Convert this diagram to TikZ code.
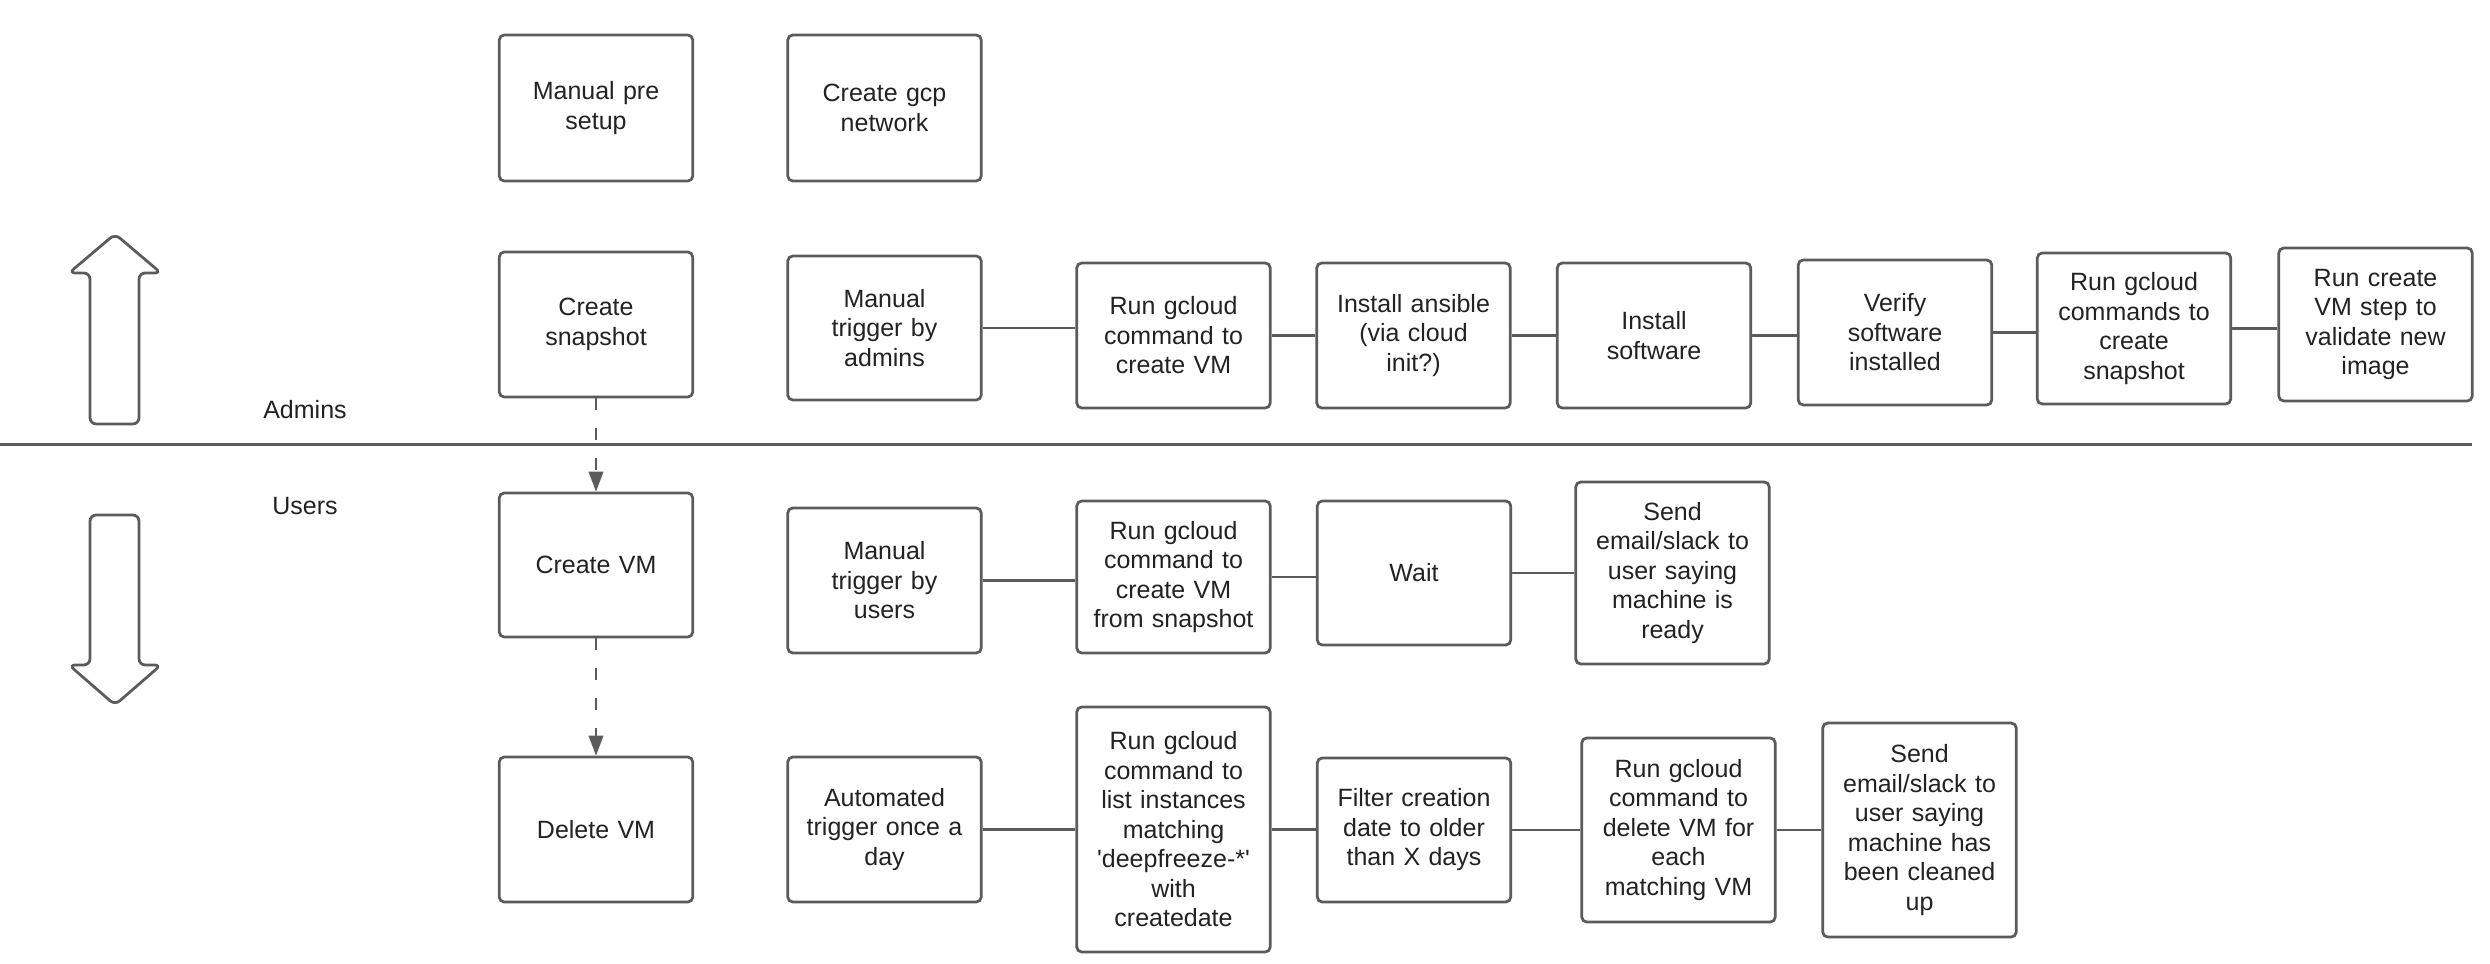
\documentclass[tikz,border=0pt]{standalone}
\usepackage{fontspec}
\setmainfont{Liberation Sans}
\usepackage{tikz}
\usetikzlibrary{arrows.meta}
\definecolor{LineGrey}{HTML}{5B5B5B}
\definecolor{TextGrey}{HTML}{222222}
\newcommand{\Unit}{0.4pt}
\def\BoxWidth{77.4pt}
% name / x / y / height / text
\def\LeftSteps{pre/596/108/58.4/{Manual pre\\setup}, snapshot/596/324.5/58/{Create\\snapshot},
	createvm/596/565/57.6/{Create VM}, deletevm/596/829.5/58/{Delete VM},
	gcp/884.5/108/58.4/{Create gcp\\network}, trigadmins/884.5/328/57.6/{Manual\\trigger by\\admins},
	trigusers/884.5/580.5/58/{Manual\\trigger by\\users}, trigauto/884.5/829.5/58/{Automated\\trigger once a\\day}}
\def\AdminSteps{a1/1173.5/335.5/58/{Run gcloud\\command to\\create VM}, a2/1413.5/335.5/58/{Install ansible\\(via cloud\\init?)},
	a3/1654/335.5/58/{Install\\software}, a4/1895/332.5/58/{Verify\\software\\installed},
	a5/2134/328.5/60.4/{Run gcloud\\commands to\\create\\snapshot}, a6/2375.5/324.5/61.2/{Run create\\VM step to\\validate new\\image}}
\def\UserSteps{u1/1173.5/577/60.8/{Run gcloud\\command to\\create VM\\from snapshot}, u2/1414/573/57.6/{Wait},
	u3/1672.5/573/72.8/{Send\\email/slack to\\user saying\\machine is\\ready}}
\def\DeleteSteps{d1/1173.5/829.5/98/{Run gcloud\\command to\\list instances\\matching\\\textquotesingle deepfreeze-*\textquotesingle\\with\\createdate},
	d2/1414/830/57.6/{Filter creation\\date to older\\than X days},
	d3/1678.5/830/73.6/{Run gcloud\\command to\\delete VM for\\each\\matching VM},
	d4/1919.5/830/85.6/{Send\\email/slack to\\user saying\\machine has\\been cleaned\\up}}
\tikzset{Step/.style={
		rectangle,
		rounded corners=2pt,
		draw=LineGrey,
		line width=1.1pt,
		inner sep=0pt,
		minimum width=\BoxWidth,
		text width=72pt,
		align=center,
		text=TextGrey,
	},
	Link/.style={draw=LineGrey, line width=0.85pt},
	Flow/.style={draw=LineGrey, line width=0.8pt, dash pattern=on 4.6pt off 7.4pt,
		-{Triangle[length=8pt,width=5.8pt]}},
	BigArrow/.style={draw=LineGrey, line width=1.1pt, rounded corners=2.5pt},
}
\begin{document}
\begin{tikzpicture}[x=\Unit, y=-\Unit, font=\fontsize{10}{11.8}\selectfont]
	\useasboundingbox (0,0) rectangle (2490,964);
	\foreach \name/\x/\y/\h/\txt in \LeftSteps {%
		\node [Step, minimum height=\h pt] (\name) at (\x,\y) {\txt};
	}
	\foreach \name/\x/\y/\h/\txt in \AdminSteps {%
		\node [Step, minimum height=\h pt] (\name) at (\x,\y) {\txt};
	}
	\foreach \name/\x/\y/\h/\txt in \UserSteps {%
		\node [Step, minimum height=\h pt] (\name) at (\x,\y) {\txt};
	}
	\foreach \name/\x/\y/\h/\txt in \DeleteSteps {%
		\node [Step, minimum height=\h pt] (\name) at (\x,\y) {\txt};
	}
	% row connectors, level with the left box
	\foreach \from/\to in {trigadmins/a1, a1/a2, a2/a3, a3/a4, a4/a5, a5/a6,
		trigusers/u1, u1/u2, u2/u3, trigauto/d1, d1/d2, d2/d3, d3/d4} {%
		\draw [Link] (\from.east) -- (\from.east -| \to.west);
	}
	\draw [Flow] (snapshot.south) -- (createvm.north);
	\draw [Flow] (createvm.south) -- (deletevm.north);
	% admins / users split
	\coordinate (splitL) at (0,444.5);
	\coordinate (splitR) at (2472,444.5);
	\draw [Link] (splitL) -- (splitR);
	\node [text=TextGrey] (admins) at (305,410) {Admins};
	\node [text=TextGrey] (users) at (305,506) {Users};
	\draw [BigArrow] (115,234) -- (161,273) -- (139,273) -- (139,424) -- (90,424) -- (90,273) -- (69,273) -- cycle;
	\draw [BigArrow] (115,705) -- (161,665) -- (139,665) -- (139,515) -- (90,515) -- (90,665) -- (69,665) -- cycle;
\end{tikzpicture}
\end{document}
